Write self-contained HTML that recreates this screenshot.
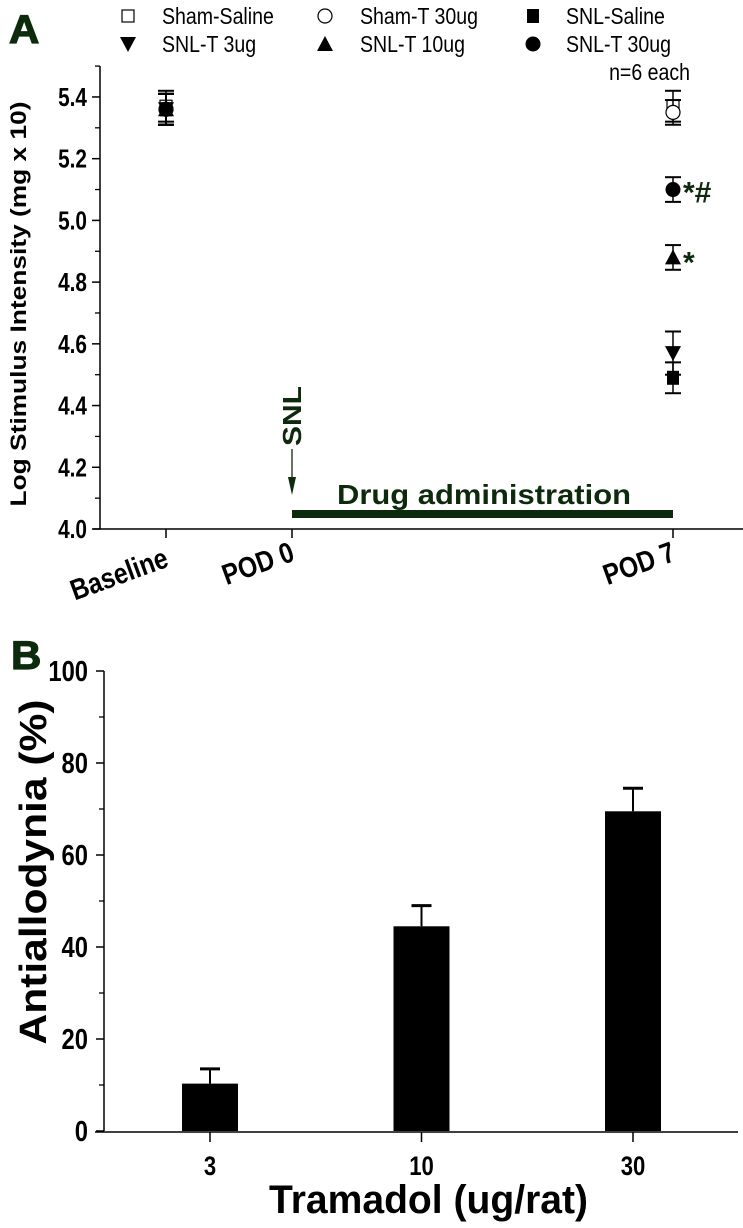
<!DOCTYPE html>
<html><head><meta charset="utf-8"><style>
html,body{margin:0;padding:0;background:#fff;}
svg{display:block;font-family:"Liberation Sans",sans-serif;}
</style></head><body>
<svg id="fig" width="743" height="1228" viewBox="0 0 743 1228" xmlns="http://www.w3.org/2000/svg">
<text x="0" y="0" transform="translate(9,43) scale(1.05,1)" font-size="40" font-weight="bold" fill="#0d2a0d" stroke="#0d2a0d" stroke-width="1.2">A</text>
<text x="0" y="0" transform="translate(11,669) scale(1.05,1)" font-size="40" font-weight="bold" fill="#0d2a0d" stroke="#0d2a0d" stroke-width="1.2">B</text>
<g id="legend"></g>
<g id="pa"></g>
<g id="pb"></g>
</svg>
<script>
// Panel A data
const catsA = ["Baseline","POD 0","POD 7"];
const seriesNames = ["Sham-Saline","Sham-T 30ug","SNL-Saline","SNL-T 3ug","SNL-T 10ug","SNL-T 30ug"];
const seriesShapes = ["sqo","cio","sqf","tdn","tup","cif"];
const baseVals = [5.37,5.36,5.36,5.36,5.36,5.36];
const baseErr = [0.05,0.05,0.05,0.05,0.05,0.05];
const pod7Vals = [5.37,5.35,4.49,4.57,4.88,5.10];
const pod7Err = [0.05,0.04,0.05,0.07,0.04,0.04];
const yTicksA = [4.0,4.2,4.4,4.6,4.8,5.0,5.2,5.4];
// Panel B data
const catsB = ["3","10","30"];
const barVals = [10.3,44.5,69.5];
const barErr = [3.2,4.5,5.0];
const yTicksB = [0,20,40,60,80,100];

const NS="http://www.w3.org/2000/svg";
function mk(tag,attrs,parent,txt){const e=document.createElementNS(NS,tag);for(const k in attrs)e.setAttribute(k,attrs[k]);if(txt!==undefined)e.textContent=txt;parent.appendChild(e);return e;}
function ctext(parent,x,y,str,size,anchor,sx,extra){
  const a={x:0,y:0,'font-size':size,'font-weight':'bold','text-anchor':anchor||'start',transform:`translate(${x},${y}) scale(${sx||0.82},1)`};
  if(extra)for(const k in extra)a[k]=extra[k];
  return mk('text',a,parent,str);
}

const pa=document.getElementById('pa');
const yA=v=>529-(v-4.0)*308.6;
const xA=i=>[166,292,673][i];
let e=mk('line',{x1:100,y1:66,x2:100,y2:529,stroke:'#000','stroke-width':1.5},pa);


e=mk('line',{x1:93,y1:529,x2:743,y2:529,stroke:'#000','stroke-width':1.5},pa);


for(let v=4.1;v<5.55;v+=0.2){mk('line',{x1:95,y1:yA(v),x2:100,y2:yA(v),stroke:'#000','stroke-width':1.3},pa);}
yTicksA.forEach(v=>{
  mk('line',{x1:92,y1:yA(v),x2:100,y2:yA(v),stroke:'#000','stroke-width':1.5},pa);
  const t=ctext(pa,87,yA(v)+9,v.toFixed(1),26,'end',0.8);
  
  
});
catsA.forEach((c,i)=>{
  mk('line',{x1:xA(i),y1:529,x2:xA(i),y2:538,stroke:'#000','stroke-width':1.5},pa);
  const t=mk('text',{x:0,y:0,'text-anchor':'end','font-size':29,'font-weight':'bold',transform:`translate(${xA(i)+4},${[566,560,560][i]}) rotate(-20) scale(0.85,1)`},pa,c);
  
  
});
e=mk('text',{x:0,y:0,'text-anchor':'middle','font-size':22,'font-weight':'bold',textLength:405,lengthAdjust:'spacingAndGlyphs',transform:'translate(26,304) rotate(-90)'},pa,'Log Stimulus Intensity (mg x 10)');


e=mk('text',{x:0,y:0,'text-anchor':'middle','font-size':26,'font-weight':'bold','fill':'#0d2a0d',textLength:60,lengthAdjust:'spacingAndGlyphs',transform:'translate(301,416) rotate(-90)'},pa,'SNL');


mk('line',{x1:292,y1:449,x2:292,y2:482,stroke:'#0d2a0d','stroke-width':1.3},pa);
mk('path',{d:'M288,477 L296,477 L292,495 Z',fill:'#0d2a0d'},pa);
e=mk('rect',{x:292,y:510,width:381,height:8,fill:'#0d2a0d'},pa);


e=mk('text',{x:337,y:504,'font-size':28,'font-weight':'bold',fill:'#0d2a0d',textLength:294,lengthAdjust:'spacingAndGlyphs'},pa,'Drug administration');



function marker(parent,shape,x,y){
  if(shape==='sqo')return mk('rect',{x:x-6,y:y-6,width:12,height:12,fill:'#fff',stroke:'#000','stroke-width':1.2},parent);
  if(shape==='sqf')return mk('rect',{x:x-6,y:y-7,width:12,height:14,fill:'#000'},parent);
  if(shape==='cio')return mk('circle',{cx:x,cy:y,r:7,fill:'#fff',stroke:'#000','stroke-width':1.2},parent);
  if(shape==='cif')return mk('circle',{cx:x,cy:y,r:7.5,fill:'#000'},parent);
  if(shape==='tup')return mk('path',{d:`M${x-8},${y+7} L${x+8},${y+7} L${x},${y-8} Z`,fill:'#000'},parent);
  return mk('path',{d:`M${x-8},${y-7} L${x+8},${y-7} L${x},${y+8} Z`,fill:'#000'},parent);
}
function errbar(parent,x,yhi,ylo){
  mk('line',{x1:x,y1:yhi,x2:x,y2:ylo,stroke:'#000','stroke-width':1.5},parent);
  mk('line',{x1:x-8,y1:yhi,x2:x+8,y2:yhi,stroke:'#000','stroke-width':2},parent);
  mk('line',{x1:x-8,y1:ylo,x2:x+8,y2:ylo,stroke:'#000','stroke-width':2},parent);
}
seriesNames.forEach((n,i)=>{
  const g=mk('g',{},pa);
  
  
  errbar(g,xA(0),yA(baseVals[i]+baseErr[i]),yA(baseVals[i]-baseErr[i]));
  errbar(g,xA(2),yA(pod7Vals[i]+pod7Err[i]),yA(pod7Vals[i]-pod7Err[i]));
  const m1=marker(g,seriesShapes[i],xA(0),yA(baseVals[i]));
  
  
  const m2=marker(g,seriesShapes[i],xA(2),yA(pod7Vals[i]));
  
  
});
e=mk('text',{x:xA(2)+10,y:yA(pod7Vals[5])+13,'font-size':30,'font-weight':'bold',fill:'#0d2a0d'},pa,'*#');


e=mk('text',{x:xA(2)+10,y:yA(pod7Vals[4])+15,'font-size':30,'font-weight':'bold',fill:'#0d2a0d'},pa,'*');



// legend
const lg=document.getElementById('legend');
const lx=[128,325,533], tx=[162,360,566], ly=[16,44];
seriesNames.forEach((n,i)=>{
  const r=Math.floor(i/3),c=i%3;
  const m=marker(lg,seriesShapes[i],lx[c],ly[r]);
  
  
  const t=mk('text',{x:0,y:0,'font-size':23,transform:`translate(${tx[c]},${ly[r]+8}) scale(0.85,1)`},lg,n);
  
  
});
e=mk('text',{x:0,y:0,'text-anchor':'end','font-size':23,transform:'translate(690,80) scale(0.85,1)'},lg,'n=6 each');



// Panel B
const pb=document.getElementById('pb');
const yB=v=>1131-v*4.6;
const xB=i=>210+i*211.5;
e=mk('line',{x1:104,y1:671,x2:104,y2:1131,stroke:'#000','stroke-width':1.5},pb);


e=mk('line',{x1:95,y1:1132,x2:738,y2:1132,stroke:'#000','stroke-width':1.5},pb);


for(let v=10;v<100;v+=20)mk('line',{x1:99,y1:yB(v),x2:104,y2:yB(v),stroke:'#000','stroke-width':1.3},pb);
yTicksB.forEach(v=>{
  mk('line',{x1:96,y1:yB(v),x2:104,y2:yB(v),stroke:'#000','stroke-width':1.5},pb);
  const t=ctext(pb,88,yB(v)+10,String(v),29,'end',0.82);
  
  
});
function errbar2(x,v,er){
  mk('line',{x1:x,y1:yB(v+er),x2:x,y2:yB(v),stroke:'#000','stroke-width':2},pb);
  mk('line',{x1:x-10,y1:yB(v+er),x2:x+10,y2:yB(v+er),stroke:'#000','stroke-width':3},pb);
}
catsB.forEach((c,i)=>{
  const x=xB(i);
  errbar2(x,barVals[i],barErr[i]);
  const b=mk('rect',{x:x-28,y:yB(barVals[i]),width:56,height:yB(0)-yB(barVals[i]),fill:'#000'},pb);
  
  
  mk('line',{x1:x,y1:1132,x2:x,y2:1142,stroke:'#000','stroke-width':1.5},pb);
  const t=ctext(pb,x,1175,c,27,'middle',0.82);
  
  
});
e=mk('text',{x:0,y:0,'text-anchor':'middle','font-size':38,'font-weight':'bold',textLength:345,lengthAdjust:'spacingAndGlyphs',transform:'translate(46,872) rotate(-90)'},pb,'Antiallodynia (%)');


e=mk('text',{x:269,y:1213,'font-size':40,'font-weight':'bold',textLength:319,lengthAdjust:'spacingAndGlyphs'},pb,'Tramadol (ug/rat)');


</script>
</body></html>
